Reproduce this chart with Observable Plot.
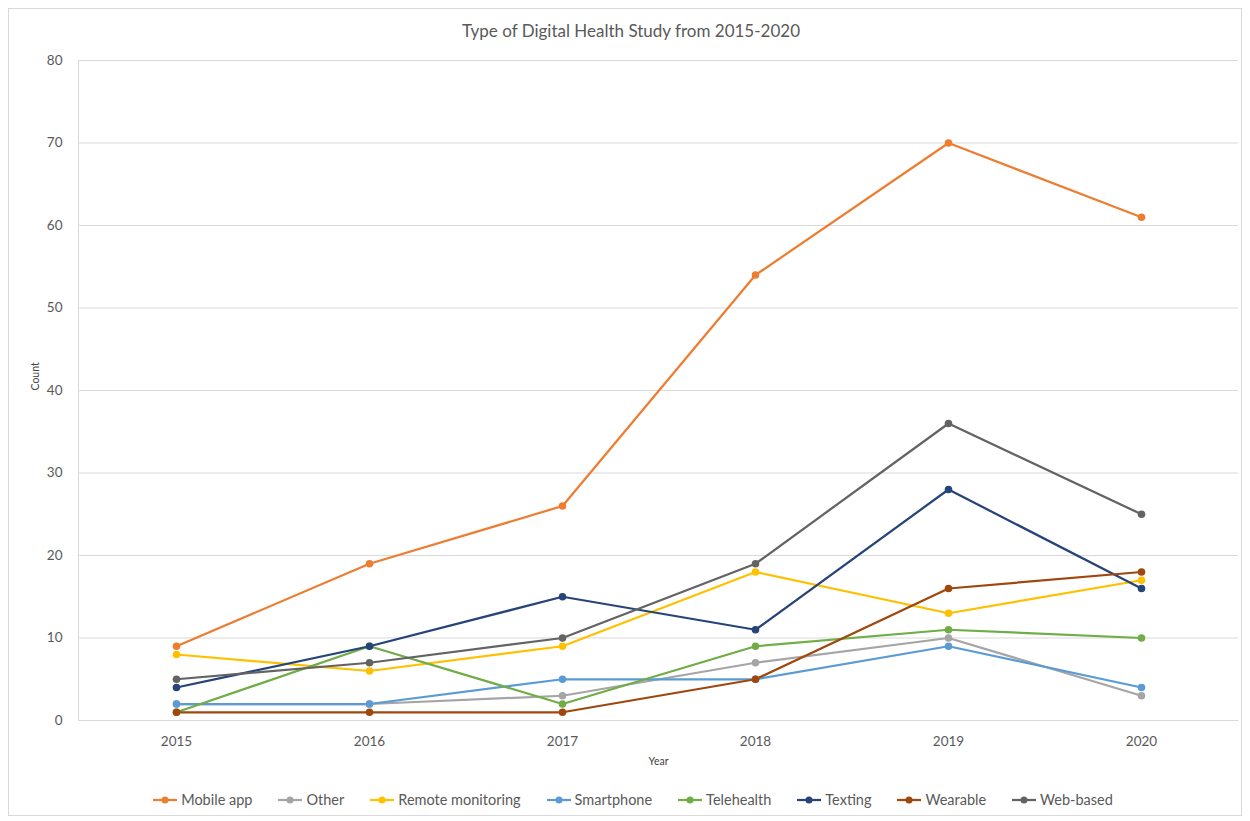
<!DOCTYPE html>
<html>
<head>
<meta charset="utf-8">
<script src="https://cdn.jsdelivr.net/npm/d3@7"></script>
<script src="https://cdn.jsdelivr.net/npm/@observablehq/plot@0.6"></script>
<style>
  html, body { margin: 0; padding: 0; background: #fff; }
  #wrap { position: relative; width: 1250px; height: 821px; font-family: Lato, "Liberation Sans", sans-serif; color: #595959; overflow: hidden; }
  #border { position: absolute; left: 8px; top: 8px; width: 1232px; height: 806px; border: 1px solid #d9d9d9; }
  #title { position: absolute; left: 0; width: 1262px; top: 20px; text-align: center; font-size: 17px; color: #595959; }
  #chart { position: absolute; left: 0; top: 0; }
  #legend { position: absolute; left: 0; width: 1266px; top: 791px; display: flex; justify-content: center; gap: 26px; font-size: 14.5px; color: #595959; }
  .item { display: flex; align-items: center; gap: 4px; }
</style>
</head>
<body>
<div id="wrap">
  <div id="border"></div>
  <div id="chart"></div>
  <div id="title">Type of Digital Health Study from 2015-2020</div>
  <div id="legend"></div>
</div>
<script>
const years = ["2015", "2016", "2017", "2018", "2019", "2020"];
const seriesNames = ["Mobile app", "Other", "Remote monitoring", "Smartphone", "Telehealth", "Texting", "Wearable", "Web-based"];
const seriesColors = ["#ED7D31", "#A5A5A5", "#FFC000", "#5B9BD5", "#70AD47", "#264478", "#9E480E", "#636363"];
const mobileApp = [9, 19, 26, 54, 70, 61];
const other = [2, 2, 3, 7, 10, 3];
const remoteMonitoring = [8, 6, 9, 18, 13, 17];
const smartphone = [2, 2, 5, 5, 9, 4];
const telehealth = [1, 9, 2, 9, 11, 10];
const texting = [4, 9, 15, 11, 28, 16];
const wearable = [1, 1, 1, 5, 16, 18];
const webBased = [5, 7, 10, 19, 36, 25];
const yTicks = [0, 10, 20, 30, 40, 50, 60, 70, 80];
const xLabel = "Year";
const yLabel = "Count";

const allValues = [mobileApp, other, remoteMonitoring, smartphone, telehealth, texting, wearable, webBased];
const data = [];
seriesNames.forEach((name, i) => {
  years.forEach((yr, j) => data.push({series: name, year: yr, count: allValues[i][j]}));
});

const plot = Plot.plot({
  width: 1250,
  height: 780,
  marginTop: 60,
  marginBottom: 60,
  marginLeft: 78,
  marginRight: 12,
  style: {fontFamily: "Lato, 'Liberation Sans', sans-serif", color: "#595959", background: "transparent"},
  x: {type: "point", domain: years, padding: 0.5},
  y: {domain: [0, 80]},
  color: {domain: seriesNames, range: seriesColors},
  marks: [
    Plot.gridY(yTicks, {stroke: "#d9d9d9", strokeOpacity: 1, strokeWidth: 1}),
    Plot.frame({anchor: "left", stroke: "#d9d9d9"}),
    Plot.axisY({ticks: yTicks, tickSize: 0, tickPadding: 16, fontSize: 13.5, label: null, fill: "#595959"}),
    Plot.axisX({tickSize: 0, tickPadding: 16, fontSize: 13.5, label: null, fill: "#595959"}),
    Plot.text([yLabel], {frameAnchor: "left", rotate: -90, dx: -43, fontSize: 10.5, fill: "#404040"}),
    Plot.text([xLabel], {frameAnchor: "bottom", dy: 44, fontSize: 10.5, fill: "#404040"}),
    Plot.line(data, {x: "year", y: "count", z: "series", stroke: "series", strokeWidth: 2.25, curve: "linear"}),
    Plot.dot(data, {x: "year", y: "count", fill: "series", r: 3.8})
  ]
});
document.getElementById("chart").appendChild(plot);

const legend = document.getElementById("legend");
seriesNames.forEach((name, i) => {
  const item = document.createElement("div");
  item.className = "item";
  const c = seriesColors[i];
  item.innerHTML = `<svg width="24" height="10"><line x1="0" y1="5" x2="24" y2="5" stroke="${c}" stroke-width="2.25"/><circle cx="12" cy="5" r="3.5" fill="${c}"/></svg><span>${name}</span>`;
  legend.appendChild(item);
});
</script>
</body>
</html>
